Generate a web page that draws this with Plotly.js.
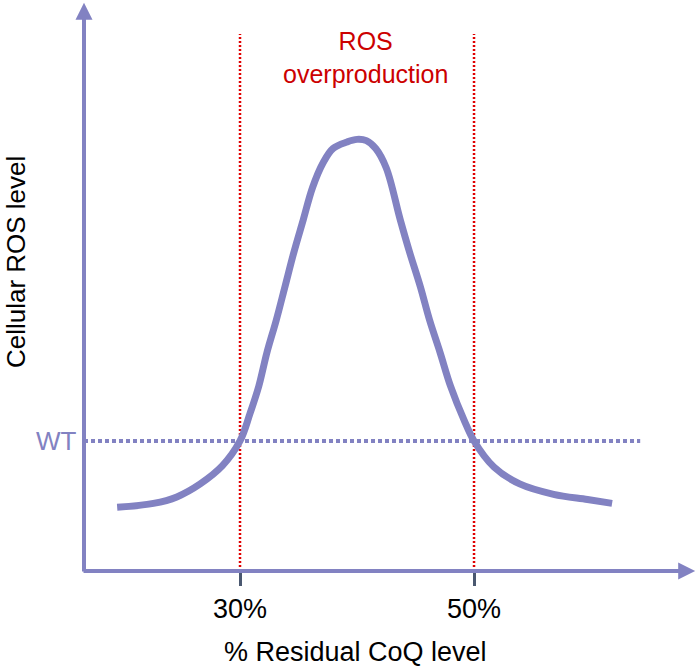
<!DOCTYPE html>
<html>
<head>
<meta charset="utf-8">
<script src="https://cdn.plot.ly/plotly-3.0.1.min.js"></script>
<style>html,body{margin:0;padding:0;background:#fff}#chart{width:696px;height:668px}</style>
</head>
<body>
<div id="chart"></div>
<script>
// ---- data ----
const residualCoQ = [19.5, 22.6, 24.6, 26.6, 28.5, 30.0, 30.85, 31.6, 32.3, 33.1, 33.85, 34.6, 35.4, 36.2, 37.1, 37.95, 39.15, 40.0, 40.8, 41.6, 42.5, 43.7, 44.5, 45.4, 46.2, 47.1, 48.0, 49.15, 50.0, 51.7, 53.9, 56.8, 59.7, 61.8];
const rosLevel    = [0.49, 0.52, 0.57, 0.67, 0.81, 1.00, 1.21, 1.42, 1.68, 1.93, 2.19, 2.45, 2.70, 2.95, 3.14, 3.25, 3.30, 3.32, 3.31, 3.25, 3.10, 2.70, 2.45, 2.19, 1.93, 1.68, 1.42, 1.16, 1.00, 0.80, 0.67, 0.59, 0.55, 0.52];
const thresholds = [30, 50];
const tickLabels = ['30%', '50%'];
const wtLevel = 1.0;
const wtLineEnd = 64.2;
const thresholdTop = 4.13;
const regionLabel = 'ROS<br>overproduction';
const regionLabelPos = [40.7, 3.95];

// ---- layout constants ----
const xRange = [16.667, 68.97];
const yRange = [0, 4.392];
const purple = '#8282c2';
const red = '#e00000';
const font = 'Liberation Sans, Arial, sans-serif';

const traces = [];
thresholds.forEach(t => {
  traces.push({x: [t, t], y: [yRange[0], thresholdTop], mode: 'lines', type: 'scatter',
    line: {color: red, width: 2.5, dash: '2px,2px'}, hoverinfo: 'skip', showlegend: false});
});
traces.push({x: [xRange[0], wtLineEnd], y: [wtLevel, wtLevel], mode: 'lines', type: 'scatter',
  line: {color: purple, width: 4, dash: '4px,3px'}, hoverinfo: 'skip', showlegend: false});
traces.push({x: residualCoQ, y: rosLevel, mode: 'lines', type: 'scatter',
  line: {color: purple, width: 7, shape: 'spline', smoothing: 1}, showlegend: false});

const layout = {
  width: 696, height: 668,
  margin: {l: 84, r: 0, t: 0, b: 97},
  paper_bgcolor: '#fff', plot_bgcolor: '#fff',
  showlegend: false,
  xaxis: {range: xRange, showgrid: false, zeroline: false, showline: false,
    tickmode: 'array', tickvals: thresholds, ticktext: tickLabels,
    ticks: 'outside', ticklen: 14, tickwidth: 3, tickcolor: '#4a5870',
    tickfont: {family: font, size: 27, color: '#000'}, fixedrange: true},
  yaxis: {range: yRange, showgrid: false, zeroline: false, showline: false,
    showticklabels: false, ticks: '', fixedrange: true},
  annotations: [
    {x: 68.9, y: 0, ax: xRange[0] - 0.17, ay: 0, xref: 'x', yref: 'y', axref: 'x', ayref: 'y',
      text: '', showarrow: true, arrowhead: 2, arrowsize: 0.85, arrowwidth: 4, arrowcolor: purple, standoff: 0},
    {x: xRange[0], y: 4.37, ax: xRange[0], ay: -0.015, xref: 'x', yref: 'y', axref: 'x', ayref: 'y',
      text: '', showarrow: true, arrowhead: 2, arrowsize: 0.85, arrowwidth: 4, arrowcolor: purple, standoff: 0},
    {x: regionLabelPos[0], y: regionLabelPos[1], xref: 'x', yref: 'y', text: regionLabel, showarrow: false,
      font: {family: font, size: 25, color: '#cc0000'}, xanchor: 'center', yanchor: 'middle'},
    {x: 0, y: wtLevel, xref: 'paper', yref: 'y', text: 'WT', showarrow: false, xanchor: 'right', yanchor: 'middle',
      xshift: -5, font: {family: font, size: 26, color: purple}},
    {x: 0, y: 0, xref: 'paper', yref: 'paper', text: '% Residual CoQ level', showarrow: false,
      xanchor: 'center', yanchor: 'middle', xshift: 271, yshift: -81, font: {family: font, size: 27, color: '#000'}},
    {x: 0, y: 0.541, xref: 'paper', yref: 'paper', text: 'Cellular ROS level', showarrow: false, textangle: -90,
      xanchor: 'center', yanchor: 'middle', xshift: -68, font: {family: font, size: 26, color: '#000'}}
  ]
};

Plotly.newPlot('chart', traces, layout, {staticPlot: true, displayModeBar: false});
</script>
</body>
</html>
